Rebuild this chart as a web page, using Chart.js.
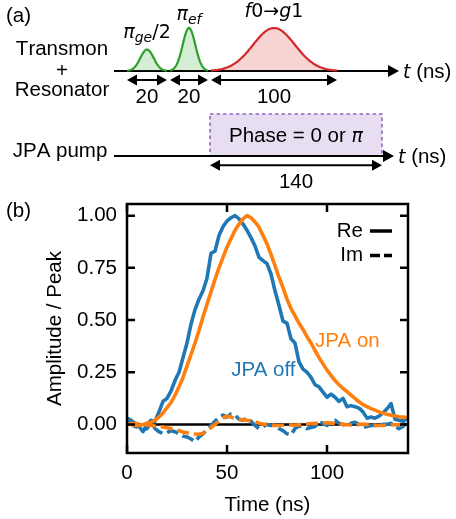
<!DOCTYPE html>
<html lang="en">
<head>
<meta charset="UTF-8">
<title>Pulse sequence and JPA readout envelopes</title>
<script src="https://cdn.jsdelivr.net/npm/chart.js"></script>
<style>
  body { margin: 0; background: #fff; }
  .figure { position: relative; width: 456px; height: 519px; }
  .figure canvas { position: absolute; left: 0; }
  #diagram { top: 0; }
  #trace { top: 195px; }
</style>
</head>
<body>
<div class="figure">
  <canvas id="diagram" width="456" height="195"></canvas>
  <canvas id="trace" width="456" height="324"></canvas>
</div>

<script>
// ---------- panel (a): pulse sequence ----------
const pulseLabels = ['$π_{ge}/2$', '$π_{ef}$', '$f0→g1$'];
const pulseDurations = [20, 20, 100];   // ns
const pulseAmplitudes = [0.5, 1, 1];
const pulseKinds = ['qubit', 'qubit', 'sideband'];
const rowLabels = ['Transmon', '+', 'Resonator'];
const pumpLabel = 'JPA pump';
const pumpDuration = 140;               // ns
const pumpText = 'Phase = 0 or $π$';
const axisUnit = '$t$ (ns)';

// ---------- panel (b): normalised envelopes ----------
const timeNs = [0, 2, 4, 6, 8, 10, 12, 14, 16, 18,
  20, 22, 24, 26, 28, 30, 32, 34, 36, 38,
  40, 42, 44, 46, 48, 50, 52, 54, 56, 58,
  60, 62, 64, 66, 68, 70, 72, 74, 76, 78,
  80, 82, 84, 86, 88, 90, 92, 94, 96, 98,
  100, 102, 104, 106, 108, 110, 112, 114, 116, 118,
  120, 122, 124, 126, 128, 130, 132, 134, 136, 138, 140];
const reOff = [0.03, 0.02, 0.005, -0.01, -0.035, 0.0, 0.02, 0.015, 0.06, 0.11,
  0.125, 0.16, 0.21, 0.25, 0.32, 0.39, 0.48, 0.55, 0.60, 0.64,
  0.70, 0.82, 0.83, 0.905, 0.947, 0.975, 0.99, 1.0, 0.985, 0.96,
  0.93, 0.895, 0.855, 0.80, 0.785, 0.77, 0.72, 0.64, 0.57, 0.495,
  0.485, 0.41, 0.39, 0.30, 0.265, 0.25, 0.225, 0.19, 0.18, 0.155,
  0.13, 0.145, 0.13, 0.11, 0.125, 0.085, 0.09, 0.085, 0.078, 0.06,
  0.03, 0.035, 0.03, 0.04, 0.055, 0.075, 0.10, 0.025, 0.02, 0.015, 0.03];
const imOff = [0.01, 0.005, -0.01, -0.015, -0.027, -0.02, 0.01, -0.02, -0.035, -0.045,
  -0.04, -0.03, -0.035, -0.045, -0.056, -0.06, -0.07, -0.083, -0.06, -0.045,
  -0.025, -0.005, 0.015, 0.035, 0.045, 0.035, 0.05, 0.045, 0.025, 0.02,
  0.03, 0.015, -0.005, -0.02, -0.01, 0.0, -0.005, -0.003, -0.02, -0.03,
  -0.045, -0.05, -0.02, -0.008, -0.01, -0.02, -0.015, -0.01, 0.013, 0.005,
  -0.005, 0.015, 0.02, 0.005, 0.0, -0.01, 0.005, 0.01, 0.0, -0.015,
  -0.01, -0.005, -0.005, -0.003, 0.0, 0.0, 0.005, -0.01, -0.02, -0.01, 0.01];
const reOn = [0.005, 0.0, -0.005, -0.005, 0.0, 0.005, 0.01, 0.02, 0.035, 0.055,
  0.08, 0.105, 0.14, 0.18, 0.225, 0.28, 0.335, 0.39, 0.45, 0.515,
  0.575, 0.635, 0.695, 0.75, 0.80, 0.85, 0.89, 0.93, 0.96, 0.985,
  1.0, 0.99, 0.97, 0.945, 0.905, 0.865, 0.815, 0.76, 0.705, 0.655,
  0.60, 0.555, 0.52, 0.485, 0.455, 0.42, 0.39, 0.355, 0.32, 0.29,
  0.26, 0.235, 0.21, 0.19, 0.172, 0.157, 0.14, 0.125, 0.108, 0.095,
  0.085, 0.076, 0.068, 0.06, 0.054, 0.049, 0.044, 0.04, 0.037, 0.035, 0.033];
const imOn = [0.0, 0.003, 0.005, 0.003, 0.0, -0.003, -0.005, -0.008, -0.01, -0.012,
  -0.016, -0.02, -0.024, -0.03, -0.036, -0.04, -0.044, -0.046, -0.047, -0.042,
  -0.03, -0.015, 0.0, 0.015, 0.03, 0.04, 0.035, 0.028, 0.024, 0.022,
  0.02, 0.017, 0.012, 0.006, 0.002, 0.0, -0.003, -0.005, -0.005, -0.004,
  -0.002, -0.003, -0.004, -0.002, 0.0, 0.002, 0.004, 0.005, 0.006, 0.007,
  0.008, 0.006, 0.004, 0.002, 0.0, -0.002, -0.003, -0.002, 0.0, 0.001,
  0.0, -0.002, -0.004, -0.005, -0.005, -0.004, -0.003, -0.002, -0.002, -0.002, -0.001];
const xTicks = [0, 50, 100];
const yTicks = [0, 0.25, 0.5, 0.75, 1];
const componentLabels = ['Re', 'Im'];
const seriesLabels = ['JPA off', 'JPA on'];

const BLUE = '#1f77b4', ORANGE = '#ff7f0e';
const GREEN = '#2ca02c', RED = '#d62728', PURPLE = '#9467bd';
const FONT = '"Liberation Sans", Arial, sans-serif';
const MATH = '"DejaVu Sans", sans-serif';
const FS = 20.5;     // text size
const MS = 19;       // mathtext size
const DASH = [12, 5];

// split "$...$" strings into runs the way mathtext would: letters italic, digits upright
function mathRuns(str) {
  const runs = [];
  let math = false;
  for (let i = 0; i < str.length; i++) {
    const c = str[i];
    if (c === '$') { math = !math; continue; }
    if (math && c === '_') {
      let sub;
      if (str[i + 1] === '{') { const j = str.indexOf('}', i); sub = str.slice(i + 2, j); i = j; }
      else { sub = str[i + 1]; i++; }
      runs.push({ text: sub, style: 'sub' });
      continue;
    }
    if (!math) runs.push({ text: c, style: 'text' });
    else runs.push({ text: c, style: /[A-Za-zπ]/.test(c) ? 'italic' : 'upright' });
  }
  return runs;
}

function runFont(r) {
  if (r.style === 'text') return `${FS}px ${FONT}`;
  if (r.style === 'sub') return `italic ${Math.round(MS * 0.72)}px ${MATH}`;
  return `${r.style === 'italic' ? 'italic ' : ''}${MS}px ${MATH}`;
}

function drawText(ctx, str, x, y, align, color) {
  const runs = mathRuns(str);
  let w = 0;
  runs.forEach(r => { ctx.font = runFont(r); r.w = ctx.measureText(r.text).width; w += r.w; });
  let cx = align === 'center' ? x - w / 2 : align === 'right' ? x - w : x;
  ctx.fillStyle = color || '#000';
  ctx.textAlign = 'left';
  ctx.textBaseline = 'alphabetic';
  runs.forEach(r => {
    ctx.font = runFont(r);
    ctx.fillText(r.text, cx, y + (r.style === 'sub' ? MS * 0.22 : 0));
    cx += r.w;
  });
}

function arrowHead(ctx, tipX, y, dir, len, half) {
  ctx.beginPath();
  ctx.moveTo(tipX, y);
  ctx.lineTo(tipX - dir * len, y - half);
  ctx.lineTo(tipX - dir * len, y + half);
  ctx.closePath();
  ctx.fill();
}

function spanArrow(ctx, x1, x2, y) {
  ctx.beginPath();
  ctx.moveTo(x1 + 8, y);
  ctx.lineTo(x2 - 8, y);
  ctx.stroke();
  arrowHead(ctx, x1, y, -1, 10, 5.5);
  arrowHead(ctx, x2, y, 1, 10, 5.5);
}

// schematic layout in the hidden scales' units (not to scale, like the original sketch)
const sketch = {
  pulseSpans: [[0, 20], [21.5, 40.5], [42, 105]],
  pulseLabelY: [0.76, 1.18, 1.25],
  spanArrowY: -0.21, spanLabelY: -0.75,
  rowY: [0, -1.977],
  axisFrom: -6.5, axisTo: [136, 133.5], unitX: [138, 135.5],
  rowLabelX: -32.5, rowLabelY: [0.37, -0.13, -0.58],
  pumpLabelX: -33.5, pumpLabelY: -2.0,
  pumpSpan: [41.5, 127.5], pumpTop: -1.0, pumpTextY: -1.65,
  pumpArrowY: -2.19, pumpArrowLabelY: -2.73
};

const diagramPlugin = {
  id: 'pulseDiagram',
  afterDraw(chart) {
    const { ctx, scales: { x, y } } = chart;
    const X = v => x.getPixelForValue(v), Y = v => y.getPixelForValue(v);
    ctx.save();

    // JPA pump window
    const [p0, p1] = sketch.pumpSpan;
    const bx = X(p0), by = Y(sketch.pumpTop), bw = X(p1) - X(p0), bh = Y(sketch.rowY[1]) - Y(sketch.pumpTop);
    ctx.fillStyle = 'rgba(148, 103, 189, 0.22)';
    ctx.fillRect(bx, by, bw, bh);
    ctx.strokeStyle = PURPLE;
    ctx.lineWidth = 1.6;
    ctx.setLineDash([3.5, 3]);
    ctx.strokeRect(bx, by, bw, bh);
    ctx.setLineDash([]);

    // time axes
    ctx.strokeStyle = '#000';
    ctx.fillStyle = '#000';
    ctx.lineWidth = 2;
    sketch.rowY.forEach((ry, i) => {
      ctx.beginPath();
      ctx.moveTo(X(sketch.axisFrom), Y(ry));
      ctx.lineTo(X(sketch.axisTo[i]) - 10, Y(ry));
      ctx.stroke();
      arrowHead(ctx, X(sketch.axisTo[i]), Y(ry), 1, 11, 6);
      drawText(ctx, axisUnit, X(sketch.unitX[i]), Y(ry) + 7, 'left');
    });

    // gaussian pulse envelopes
    pulseDurations.forEach((d, i) => {
      const [a, b] = sketch.pulseSpans[i];
      const c = (a + b) / 2, s = (b - a) / 6;
      ctx.beginPath();
      for (let k = 0; k <= 80; k++) {
        const t = a + (b - a) * k / 80;
        const v = pulseAmplitudes[i] * Math.exp(-0.5 * ((t - c) / s) ** 2);
        if (k === 0) ctx.moveTo(X(t), Y(v)); else ctx.lineTo(X(t), Y(v));
      }
      ctx.fillStyle = pulseKinds[i] === 'qubit' ? 'rgba(44, 160, 44, 0.2)' : 'rgba(214, 39, 40, 0.2)';
      ctx.fill();
      ctx.strokeStyle = pulseKinds[i] === 'qubit' ? GREEN : RED;
      ctx.lineWidth = 2.2;
      ctx.stroke();
      drawText(ctx, pulseLabels[i], X(c), Y(sketch.pulseLabelY[i]), 'center');

      ctx.strokeStyle = '#000';
      ctx.fillStyle = '#000';
      ctx.lineWidth = 2;
      spanArrow(ctx, X(a), X(b), Y(sketch.spanArrowY));
      drawText(ctx, String(d), X(c), Y(sketch.spanLabelY), 'center');
    });

    // pump duration
    ctx.strokeStyle = '#000';
    ctx.fillStyle = '#000';
    spanArrow(ctx, X(p0), X(p1), Y(sketch.pumpArrowY));
    drawText(ctx, String(pumpDuration), X((p0 + p1) / 2), Y(sketch.pumpArrowLabelY), 'center');
    drawText(ctx, pumpText, X((p0 + p1) / 2), Y(sketch.pumpTextY), 'center');

    // row names
    rowLabels.forEach((lab, i) => drawText(ctx, lab, X(sketch.rowLabelX), Y(sketch.rowLabelY[i]), 'center'));
    drawText(ctx, pumpLabel, X(sketch.pumpLabelX), Y(sketch.pumpLabelY), 'center');

    drawText(ctx, '(a)', 6, 22, 'left');
    ctx.restore();
  }
};

new Chart(document.getElementById('diagram'), {
  type: 'scatter',
  data: { datasets: [] },
  options: {
    responsive: false,
    animation: false,
    devicePixelRatio: 1,
    layout: { padding: 0 },
    plugins: { legend: { display: false }, tooltip: { enabled: false } },
    scales: {
      x: { type: 'linear', min: -63.5, max: 164.5, display: false },
      y: { type: 'linear', min: -2.884, max: 1.651, display: false }
    }
  },
  plugins: [diagramPlugin]
});

// ---------- panel (b) ----------
const toPoints = vals => timeNs.map((t, i) => ({ x: t, y: vals[i] }));
const axisFont = { family: FONT, size: FS };
const noPad = s => { s.paddingTop = 0; s.paddingBottom = 0; s.paddingLeft = 0; s.paddingRight = 0; };

const framePlugin = {
  id: 'frame',
  beforeDatasetsDraw(chart) {
    const { ctx, chartArea: a, scales: { y } } = chart;
    ctx.save();
    ctx.strokeStyle = '#000';
    ctx.lineWidth = 2.5;
    ctx.beginPath();
    ctx.moveTo(a.left, y.getPixelForValue(0));
    ctx.lineTo(a.right, y.getPixelForValue(0));
    ctx.stroke();
    ctx.restore();
  },
  afterDatasetsDraw(chart) {
    const { ctx, chartArea: a, scales: { x, y } } = chart;
    ctx.save();
    ctx.strokeStyle = '#000';
    ctx.lineWidth = 2.5;
    ctx.strokeRect(a.left, a.top, a.right - a.left, a.bottom - a.top);
    // inward ticks on all four sides
    ctx.beginPath();
    x.ticks.forEach(t => {
      const px = x.getPixelForValue(t.value);
      ctx.moveTo(px, a.bottom); ctx.lineTo(px, a.bottom - 8);
      ctx.moveTo(px, a.top); ctx.lineTo(px, a.top + 8);
    });
    y.ticks.forEach(t => {
      const py = y.getPixelForValue(t.value);
      ctx.moveTo(a.left, py); ctx.lineTo(a.left + 8, py);
      ctx.moveTo(a.right, py); ctx.lineTo(a.right - 8, py);
    });
    ctx.stroke();

    // line-style key
    componentLabels.forEach((lab, i) => {
      const ly = a.top + 27 + i * 24.5;
      ctx.font = `${FS}px ${FONT}`;
      ctx.fillStyle = '#000';
      ctx.textAlign = 'right';
      ctx.textBaseline = 'middle';
      ctx.fillText(lab, a.right - 45, ly);
      ctx.lineWidth = 3.5;
      ctx.setLineDash(i ? [10, 4] : []);
      ctx.beginPath();
      ctx.moveTo(a.right - 38, ly);
      ctx.lineTo(a.right - 16, ly);
      ctx.stroke();
    });
    ctx.setLineDash([]);

    // curve labels
    const notes = [
      { text: seriesLabels[1], color: ORANGE, t: 110.2, v: 0.40 },
      { text: seriesLabels[0], color: BLUE, t: 68.2, v: 0.26 }
    ];
    notes.forEach(n => {
      ctx.font = `${FS}px ${FONT}`;
      ctx.fillStyle = n.color;
      ctx.textAlign = 'center';
      ctx.textBaseline = 'middle';
      ctx.fillText(n.text, x.getPixelForValue(n.t), y.getPixelForValue(n.v));
    });

    ctx.fillStyle = '#000';
    ctx.textAlign = 'left';
    ctx.font = `${FS}px ${FONT}`;
    ctx.fillText('(b)', 6, 16);
    ctx.restore();
  }
};

new Chart(document.getElementById('trace'), {
  type: 'line',
  data: {
    datasets: [
      { label: 'Re, ' + seriesLabels[1], data: toPoints(reOn), borderColor: ORANGE },
      { label: 'Im, ' + seriesLabels[1], data: toPoints(imOn), borderColor: ORANGE, borderDash: DASH },
      { label: 'Re, ' + seriesLabels[0], data: toPoints(reOff), borderColor: BLUE },
      { label: 'Im, ' + seriesLabels[0], data: toPoints(imOff), borderColor: BLUE, borderDash: DASH }
    ]
  },
  options: {
    responsive: false,
    animation: false,
    devicePixelRatio: 1,
    layout: { padding: { top: 9, right: 48, left: 0, bottom: 0 } },
    elements: {
      point: { radius: 0 },
      line: { tension: 0, fill: false, borderWidth: 3.6, borderJoinStyle: 'round' }
    },
    plugins: { legend: { display: false }, tooltip: { enabled: false } },
    scales: {
      x: {
        type: 'linear', min: 0, max: 140.5,
        grid: { display: false, drawTicks: false },
        border: { display: false },
        afterBuildTicks: s => { s.ticks = xTicks.map(v => ({ value: v })); },
        afterFit: s => { s.height = 66; noPad(s); },
        ticks: { font: axisFont, color: '#000', padding: 8, maxRotation: 0, callback: v => String(v) },
        title: { display: true, text: 'Time (ns)', font: axisFont, color: '#000', padding: { top: 0, bottom: 1 } }
      },
      y: {
        type: 'linear', min: -0.137, max: 1.056,
        grid: { display: false, drawTicks: false },
        border: { display: false },
        afterBuildTicks: s => { s.ticks = yTicks.map(v => ({ value: v })); },
        afterFit: s => { s.width = 127; noPad(s); },
        ticks: { font: axisFont, color: '#000', padding: 10, callback: v => v.toFixed(2) },
        title: { display: true, text: 'Amplitude / Peak', font: axisFont, color: '#000', padding: { top: 43, bottom: 0 } }
      }
    }
  },
  plugins: [framePlugin]
});
</script>
</body>
</html>
